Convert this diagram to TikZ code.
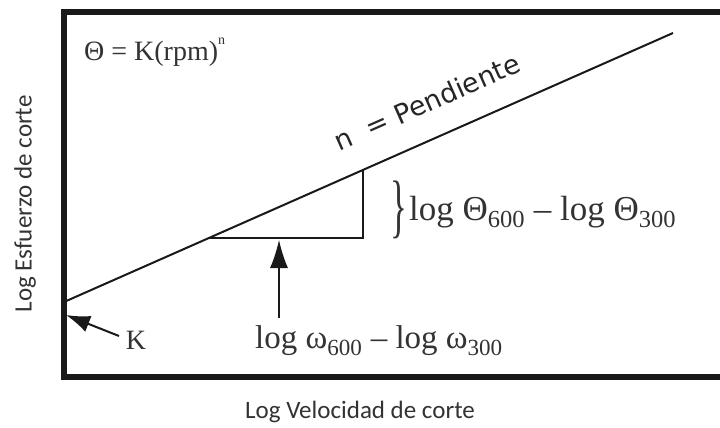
\documentclass[tikz,border=0pt]{standalone}
\usepackage{fontspec}
\setmainfont{Liberation Serif}
\newfontfamily\axisfont{Carlito}
\newfontfamily\slopefont{DejaVu Sans}
\usetikzlibrary{arrows.meta}
\tikzset{
  frameline/.style={line width=6pt, color=black!90, line join=miter},
  plotline/.style={line width=2pt, color=black!90},
  serifbig/.style={inner sep=0pt, text=black!80, font=\fontsize{33}{36}\selectfont},
  axislabel/.style={inner sep=0pt, text=black!80, font=\axisfont\fontsize{25}{28}\selectfont},
  bigtip/.style={-{Latex[length=28pt,width=18pt]}}
}
\begin{document}
\begin{tikzpicture}[x=1pt,y=-1pt]
\useasboundingbox (0,0) rectangle (720,428);
\fill[white] (0,0) rectangle (720,428);
% frame
\coordinate (fTR) at (722,12);
\coordinate (fTL) at (64,12);
\coordinate (fBL) at (64,377);
\coordinate (fBR) at (722,377);
\draw[frameline] (fTR) -- (fTL) -- (fBL) -- (fBR);
% main line
\coordinate (K0) at (64,302);
\coordinate (lineEnd) at (673,33);
\draw[plotline] (K0) -- (lineEnd);
% triangle
\coordinate (tA) at (209,238);
\coordinate (tB) at (363,238);
\coordinate (tC) at (363,170);
\draw[plotline] (tA) -- (tB) -- (tC);
% texts
\node[serifbig, anchor=west, font=\fontsize{28}{30}\selectfont] (formula) at (84,52) {Θ = K(rpm)\raisebox{0.55em}{\fontsize{14}{14}\selectfont n}};
\node[inner sep=0pt, text=black!85, font=\slopefont\fontsize{27}{30}\selectfont, rotate=23.8] (slope) at (427,102) {n\ \ = Pendiente};
\node[serifbig, anchor=west, font=\fontsize{35}{38}\selectfont] (dtheta) at (409,212) {log Θ\textsubscript{600} – log Θ\textsubscript{300}};
\node[inner sep=0pt, text=black!80, font=\fontsize{70}{70}\selectfont, xscale=0.5] (brace) at (399,210) {\}};
\node[serifbig] (domega) at (379,341) {log ω\textsubscript{600} – log ω\textsubscript{300}};
\node[inner sep=0pt, text=black!80, font=\fontsize{28}{30}\selectfont] (Klabel) at (136,340) {K};
\node[axislabel] (xlabel) at (360,412) {Log Velocidad de corte};
\node[axislabel, rotate=90] (ylabel) at (25,204) {Log Esfuerzo de corte};
% arrows
\coordinate (arrTail) at (279,318);
\coordinate (arrTip) at (279,240);
\draw[bigtip, line width=1.2pt, color=black!90] (arrTail) -- (arrTip);
\coordinate (kTail) at (119,336);
\coordinate (kTip) at (66,315);
\draw[-{Latex[length=24pt,width=17pt]}, line width=2pt, color=black!90] (kTail) -- (kTip);
\end{tikzpicture}
\end{document}
